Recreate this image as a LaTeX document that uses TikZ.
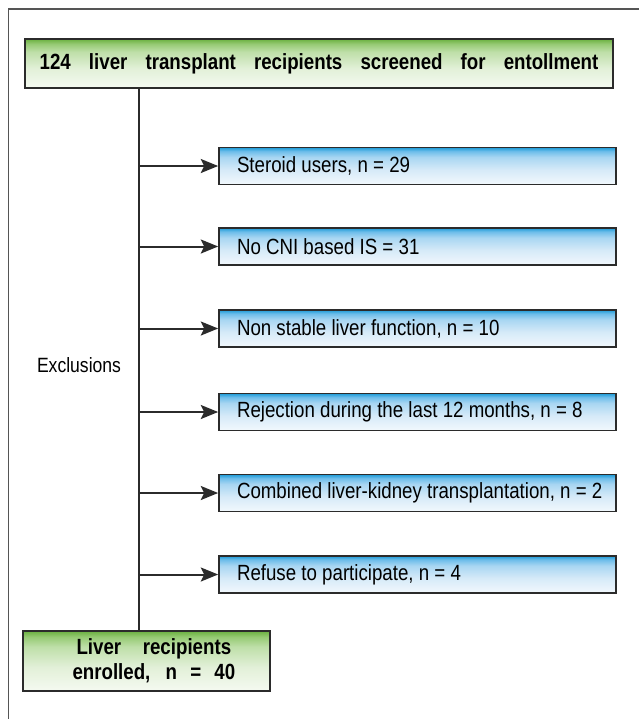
\documentclass[tikz,border=0pt]{standalone}
\usepackage{fontspec}
\setmainfont{Liberation Sans}[FakeStretch=0.85]
\usetikzlibrary{arrows.meta}
\definecolor{framegray}{HTML}{555555}
\definecolor{boxline}{HTML}{2B2B2B}
\definecolor{gA}{HTML}{F5FAF1}
\definecolor{gB}{HTML}{E2F0D8}
\definecolor{gC}{HTML}{BEDFA8}
\definecolor{gD}{HTML}{96CA74}
\definecolor{gE}{HTML}{6AB13F}
\definecolor{bA}{HTML}{F2F8FD}
\definecolor{bB}{HTML}{D6EAF8}
\definecolor{bC}{HTML}{A8D6F2}
\definecolor{bD}{HTML}{6DBDEA}
\definecolor{bE}{HTML}{1E9BD7}
\pgfdeclareverticalshading{greenshade}{100bp}{color(0bp)=(gA); color(25bp)=(gA); color(45bp)=(gB); color(62bp)=(gC); color(70bp)=(gD); color(75bp)=(gE); color(100bp)=(gE)}
\pgfdeclareverticalshading{blueshade}{100bp}{color(0bp)=(bA); color(25bp)=(bA); color(45bp)=(bB); color(62bp)=(bC); color(70bp)=(bD); color(75bp)=(bE); color(100bp)=(bE)}
\newcommand{\bltext}[1]{\makebox[270.75pt][l]{#1}}
\tikzset{
  greenbox/.style={draw=boxline, line width=1.3pt, shading=greenshade,
    inner sep=0pt, font=\fontsize{16.5pt}{18pt}\selectfont\bfseries},
  bluebox/.style={draw=boxline, line width=1.3pt, shading=blueshade,
    minimum width=297.75pt, minimum height=27.75pt, inner xsep=13.5pt, inner ysep=0pt,
    font=\fontsize{16.5pt}{18pt}\selectfont},
  trunkline/.style={draw=boxline, line width=1.4pt},
  arr/.style={draw=boxline, line width=1.5pt, -{Stealth[length=13pt,width=10.5pt,inset=2.5pt]}},
  plainlabel/.style={font=\fontsize{15.5pt}{18pt}\selectfont, inner sep=0pt}
}
\begin{document}
\begin{tikzpicture}[x=0.75pt, y=-0.75pt]
\useasboundingbox (0,0) rectangle (639,719);
\fill[white] (0,0) rectangle (639,719);
% outer frame (cropped on right and bottom)
\draw[framegray, line width=1.2pt] (8.5,719) -- (8.5,9) -- (639,9);

\coordinate (trunk) at (139,0);

\node[greenbox, minimum width=441pt, minimum height=36.75pt] (top) at (319,63.5)
  {\makebox[419pt][s]{124 liver transplant recipients screened for entollment}};

\node[bluebox] (b1) at (417.5,166) {\bltext{Steroid users, n = 29}};
\node[bluebox] (b2) at (417.5,246.5) {\bltext{No CNI based IS = 31}};
\node[bluebox] (b3) at (417.5,328.5) {\bltext{Non stable liver function, n = 10}};
\node[bluebox] (b4) at (417.5,412) {\bltext{Rejection during the last 12 months, n = 8}};
\node[bluebox] (b5) at (417.5,493) {\bltext{Combined liver-kidney transplantation, n = 2}};
\node[bluebox] (b6) at (417.5,574.5) {\bltext{Refuse to participate, n = 4}};

\node[greenbox, minimum width=185.25pt, minimum height=45pt, align=center] (bot) at (146.5,661)
  {\hspace*{11pt}\makebox[116pt][s]{Liver recipients}\\[1pt]\hspace*{11pt}\makebox[122pt][s]{enrolled, n = 40}};

\node[plainlabel] (excl) at (79,365) {Exclusions};

\draw[trunkline] (top.south -| trunk) -- (bot.north -| trunk);
\foreach \b in {b1,b2,b3,b4,b5,b6}{
  \draw[arr] (\b.west -| trunk) -- (\b.west);
}
\end{tikzpicture}
\end{document}
